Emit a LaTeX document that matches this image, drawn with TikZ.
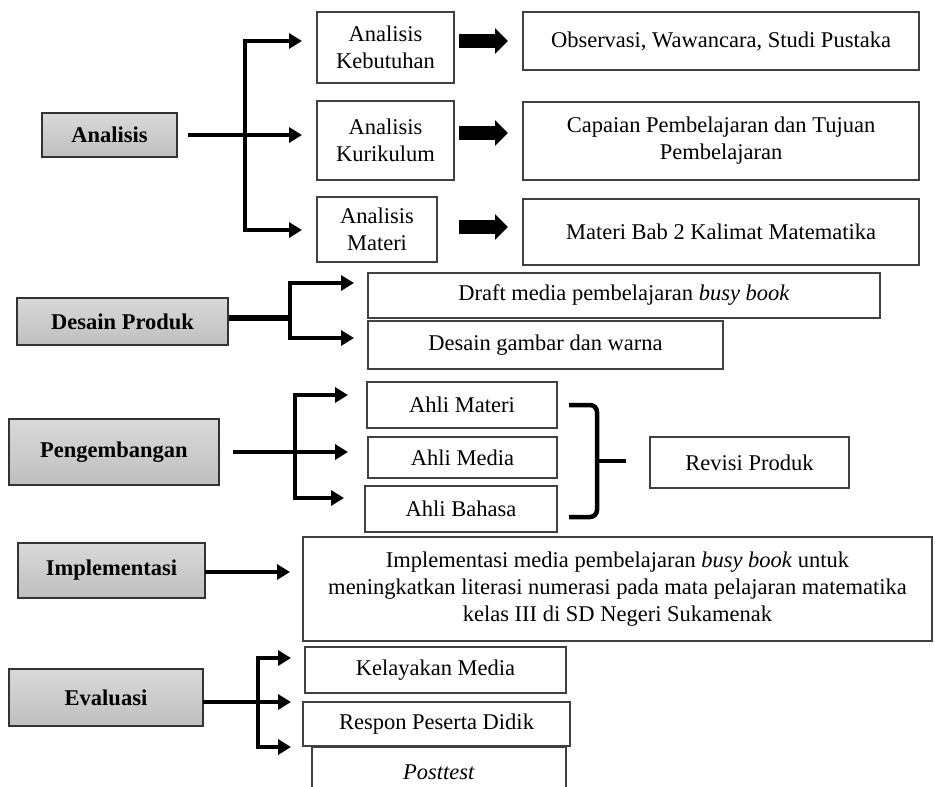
\documentclass[tikz,border=0pt]{standalone}
\usepackage{fontspec}
\setmainfont{Liberation Serif}
\usetikzlibrary{arrows.meta}
\begin{document}
\begin{tikzpicture}[x=1pt,y=-1pt,
  every node/.style={font=\fontsize{22.5}{27}\selectfont, align=center, inner sep=0pt},
  box/.style={draw=black!75, line width=1.3pt, fill=white},
  phase/.style={draw=black!80, line width=1.5pt, top color=black!15, bottom color=black!25, font=\fontsize{22.5}{27}\selectfont\bfseries},
  conn/.style={line width=4.5pt, -{Triangle[width=15pt,length=13pt]}},
  branch/.style={line width=4.5pt},
  fat/.style={line width=14pt, -{Triangle[width=25pt,length=13pt]}},
  brace/.style={line width=4.5pt, rounded corners=7pt}
]
\useasboundingbox (0,0) rectangle (935,787);
\clip (0,0) rectangle (935,787);

% ---------- Analisis ----------
\node[phase, minimum width=135pt, minimum height=44pt] (ana) at (109.5,135) {Analisis};
\node[box, minimum width=137pt, minimum height=71pt] (ak1) at (385.5,47.5) {Analisis\\Kebutuhan};
\node[box, minimum width=137pt, minimum height=79pt] (ak2) at (385.5,140.5) {Analisis\\Kurikulum};
\node[box, minimum width=120pt, minimum height=65pt] (ak3) at (377,229.5) {Analisis\\Materi};
\node[box, minimum width=396pt, minimum height=58pt] (r1) at (721,41) {Observasi, Wawancara, Studi Pustaka};
\node[box, minimum width=396pt, minimum height=78pt] (r2) at (721,141) {Capaian Pembelajaran dan Tujuan\\Pembelajaran};
\node[box, minimum width=396pt, minimum height=66pt] (r3) at (721,232) {Materi Bab 2 Kalimat Matematika};

\coordinate (a0) at (188,135);
\coordinate (aj) at (245,135);
\coordinate (at) at (245,41);
\coordinate (ab) at (245,230);
\coordinate (a1e) at (302,41);
\coordinate (a2e) at (302,135);
\coordinate (a3e) at (302,230);
\draw[branch] (at) -- (ab);
\draw[conn] (a0) -- (a2e);
\draw[conn] ([xshift=-2.25pt]at) -- (a1e);
\draw[conn] ([xshift=-2.25pt]ab) -- (a3e);

\coordinate (f1s) at (459,41);  \coordinate (f1e) at (508,41);
\coordinate (f2s) at (459,133); \coordinate (f2e) at (508,133);
\coordinate (f3s) at (459,227); \coordinate (f3e) at (508,227);
\draw[fat] (f1s) -- (f1e);
\draw[fat] (f2s) -- (f2e);
\draw[fat] (f3s) -- (f3e);

% ---------- Desain Produk ----------
\node[phase, minimum width=211pt, minimum height=47pt] (dp) at (122.5,321.5) {Desain Produk};
\node[box, minimum width=512pt, minimum height=45pt] (d1) at (624,295.5) {Draft media pembelajaran \textit{busy book}};
\node[box, minimum width=355pt, minimum height=48pt] (d2) at (545.5,345) {Desain gambar dan warna};
\coordinate (dj) at (290,318);
\coordinate (dt) at (290,283);
\coordinate (db) at (290,338);
\coordinate (d1e) at (354,283);
\coordinate (d2e) at (354,338);
\draw[line width=6pt] (dp.east |- dj) -- (dj);
\draw[branch] (dt) -- (db);
\draw[conn] ([xshift=-2.25pt]dt) -- (d1e);
\draw[conn] ([xshift=-2.25pt]db) -- (d2e);

% ---------- Pengembangan ----------
\node[phase, minimum width=210pt, minimum height=66pt] (pg) at (114,452) {Pengembangan};
\node[box, minimum width=190pt, minimum height=46pt] (p1) at (462,405) {Ahli Materi};
\node[box, minimum width=189pt, minimum height=41pt] (p2) at (462.5,457.5) {Ahli Media};
\node[box, minimum width=192pt, minimum height=46pt] (p3) at (461,509) {Ahli Bahasa};
\node[box, minimum width=199pt, minimum height=51pt] (rv) at (749.5,462.5) {Revisi Produk};
\coordinate (p0) at (233,452);
\coordinate (pt) at (295,395);
\coordinate (pb) at (295,498);
\coordinate (p1e) at (348,395);
\coordinate (p2e) at (348,452);
\coordinate (p3e) at (344,498);
\draw[branch] (pt) -- (pb);
\draw[conn] (p0) -- (p2e);
\draw[conn] ([xshift=-2.25pt]pt) -- (p1e);
\draw[conn] ([xshift=-2.25pt]pb) -- (p3e);
\coordinate (bt) at (569,405);
\coordinate (bm) at (597,461);
\coordinate (bb) at (569,517);
\coordinate (btip) at (626,461);
\draw[brace] (bt) -- (bt -| bm) -- (bm) -- (bb -| bm) -- (bb);
\draw[line width=4.5pt] (bm) -- (btip);

% ---------- Implementasi ----------
\node[phase, minimum width=187pt, minimum height=55pt] (im) at (111.5,570.5) {Implementasi};
\node[box, minimum width=629pt, minimum height=104pt] (ib) at (617.5,589) {Implementasi media pembelajaran \textit{busy book} untuk\\meningkatkan literasi numerasi pada mata pelajaran matematika\\kelas III di SD Negeri Sukamenak};
\coordinate (i0) at (205,572);
\coordinate (ie) at (290,572);
\draw[conn] (i0) -- (ie);

% ---------- Evaluasi ----------
\node[phase, minimum width=194pt, minimum height=57pt] (ev) at (106,697.5) {Evaluasi};
\node[box, minimum width=261pt, minimum height=46pt] (e1) at (435.5,670) {Kelayakan Media};
\node[box, minimum width=267pt, minimum height=44pt] (e2) at (436.5,724) {Respon Peserta Didik};
\node[box, minimum width=254pt, minimum height=50pt] (e3) at (439,772) {\textit{Posttest}};
\coordinate (e0) at (203,702);
\coordinate (et) at (258,658);
\coordinate (eb) at (258,747);
\coordinate (e1e) at (291,658);
\coordinate (e2e) at (291,702);
\coordinate (e3e) at (291,747);
\draw[branch] (et) -- (eb);
\draw[conn] (e0) -- (e2e);
\draw[conn] ([xshift=-2.25pt]et) -- (e1e);
\draw[conn] ([xshift=-2.25pt]eb) -- (e3e);
\end{tikzpicture}
\end{document}
